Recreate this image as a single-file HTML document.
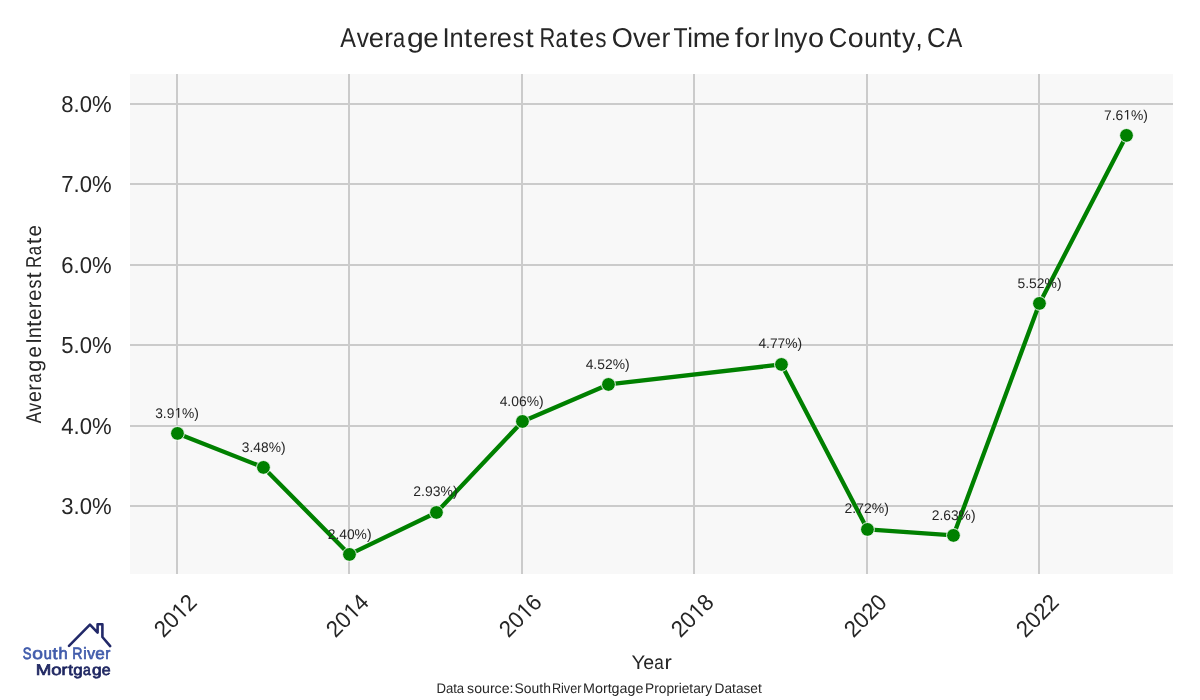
<!DOCTYPE html>
<html><head><meta charset="utf-8"><title>Average Interest Rates Over Time for Inyo County, CA</title>
<style>
html,body{margin:0;padding:0;background:#fff;}
body{width:1200px;height:700px;overflow:hidden;font-family:"Liberation Sans",sans-serif;}
svg{display:block;will-change:transform;}
text{font-family:"Liberation Sans",sans-serif;fill:#262626;text-rendering:geometricPrecision;}
.g{stroke:#cbcbcb;stroke-width:2;}
.tick{font-size:23.1px;}
.ann{font-size:14px;}
</style></head><body>
<svg width="1200" height="700" viewBox="0 0 1200 700">
<rect x="0" y="0" width="1200" height="700" fill="#ffffff"/>
<rect x="130" y="74" width="1043" height="500" fill="#f8f8f8"/>
<line class="g" x1="177" y1="74" x2="177" y2="574"/>
<line class="g" x1="349" y1="74" x2="349" y2="574"/>
<line class="g" x1="522" y1="74" x2="522" y2="574"/>
<line class="g" x1="694" y1="74" x2="694" y2="574"/>
<line class="g" x1="867" y1="74" x2="867" y2="574"/>
<line class="g" x1="1039" y1="74" x2="1039" y2="574"/>
<line class="g" x1="130" y1="104" x2="1173" y2="104"/>
<line class="g" x1="130" y1="184" x2="1173" y2="184"/>
<line class="g" x1="130" y1="265" x2="1173" y2="265"/>
<line class="g" x1="130" y1="345" x2="1173" y2="345"/>
<line class="g" x1="130" y1="426" x2="1173" y2="426"/>
<line class="g" x1="130" y1="506" x2="1173" y2="506"/>
<text class="tick" x="111.7" y="111.90" text-anchor="end" textLength="50.4" lengthAdjust="spacingAndGlyphs">8.0%</text>
<text class="tick" x="111.7" y="191.90" text-anchor="end" textLength="50.4" lengthAdjust="spacingAndGlyphs">7.0%</text>
<text class="tick" x="111.7" y="272.90" text-anchor="end" textLength="50.4" lengthAdjust="spacingAndGlyphs">6.0%</text>
<text class="tick" x="111.7" y="352.90" text-anchor="end" textLength="50.4" lengthAdjust="spacingAndGlyphs">5.0%</text>
<text class="tick" x="111.7" y="433.90" text-anchor="end" textLength="50.4" lengthAdjust="spacingAndGlyphs">4.0%</text>
<text class="tick" x="111.7" y="513.90" text-anchor="end" textLength="50.4" lengthAdjust="spacingAndGlyphs">3.0%</text>
<g transform="translate(175.00,615.2) rotate(-45)">
<text x="-24.60" y="8.30" font-size="23.1" textLength="24.60" lengthAdjust="spacingAndGlyphs">20</text>
<path d="M550 0V1237L232 1010V1180L565 1409H731V0Z" fill="#262626" transform="translate(0.00,8.30) scale(0.010799,-0.011279)"/>
<text x="12.30" y="8.30" font-size="23.1" textLength="12.30" lengthAdjust="spacingAndGlyphs">2</text>
</g>
<g transform="translate(347.00,615.2) rotate(-45)">
<text x="-24.60" y="8.30" font-size="23.1" textLength="24.60" lengthAdjust="spacingAndGlyphs">20</text>
<path d="M550 0V1237L232 1010V1180L565 1409H731V0Z" fill="#262626" transform="translate(0.00,8.30) scale(0.010799,-0.011279)"/>
<text x="12.30" y="8.30" font-size="23.1" textLength="12.30" lengthAdjust="spacingAndGlyphs">4</text>
</g>
<g transform="translate(520.00,615.2) rotate(-45)">
<text x="-24.60" y="8.30" font-size="23.1" textLength="24.60" lengthAdjust="spacingAndGlyphs">20</text>
<path d="M550 0V1237L232 1010V1180L565 1409H731V0Z" fill="#262626" transform="translate(0.00,8.30) scale(0.010799,-0.011279)"/>
<text x="12.30" y="8.30" font-size="23.1" textLength="12.30" lengthAdjust="spacingAndGlyphs">6</text>
</g>
<g transform="translate(692.00,615.2) rotate(-45)">
<text x="-24.60" y="8.30" font-size="23.1" textLength="24.60" lengthAdjust="spacingAndGlyphs">20</text>
<path d="M550 0V1237L232 1010V1180L565 1409H731V0Z" fill="#262626" transform="translate(0.00,8.30) scale(0.010799,-0.011279)"/>
<text x="12.30" y="8.30" font-size="23.1" textLength="12.30" lengthAdjust="spacingAndGlyphs">8</text>
</g>
<g transform="translate(865.00,615.2) rotate(-45)">
<text x="-24.60" y="8.30" font-size="23.1" textLength="49.20" lengthAdjust="spacingAndGlyphs">2020</text>
</g>
<g transform="translate(1037.00,615.2) rotate(-45)">
<text x="-24.60" y="8.30" font-size="23.1" textLength="49.20" lengthAdjust="spacingAndGlyphs">2022</text>
</g>
<polyline points="177.46,433.42 263.46,467.42 349.46,554.42 436.46,512.45 522.46,421.45 608.46,384.45 781.46,364.45 867.46,529.42 953.46,535.42 1039.46,303.42 1126.50,135.42" fill="none" stroke="#008000" stroke-width="4.3" stroke-linejoin="round" stroke-linecap="round"/>
<circle cx="177.46" cy="433.42" r="6.9" fill="#008000" stroke="#ffffff" stroke-width="0.9"/>
<circle cx="263.46" cy="467.42" r="6.9" fill="#008000" stroke="#ffffff" stroke-width="0.9"/>
<circle cx="349.46" cy="554.42" r="6.9" fill="#008000" stroke="#ffffff" stroke-width="0.9"/>
<circle cx="436.46" cy="512.45" r="6.9" fill="#008000" stroke="#ffffff" stroke-width="0.9"/>
<circle cx="522.46" cy="421.45" r="6.9" fill="#008000" stroke="#ffffff" stroke-width="0.9"/>
<circle cx="608.46" cy="384.45" r="6.9" fill="#008000" stroke="#ffffff" stroke-width="0.9"/>
<circle cx="781.46" cy="364.45" r="6.9" fill="#008000" stroke="#ffffff" stroke-width="0.9"/>
<circle cx="867.46" cy="529.42" r="6.9" fill="#008000" stroke="#ffffff" stroke-width="0.9"/>
<circle cx="953.46" cy="535.42" r="6.9" fill="#008000" stroke="#ffffff" stroke-width="0.9"/>
<circle cx="1039.46" cy="303.42" r="6.9" fill="#008000" stroke="#ffffff" stroke-width="0.9"/>
<circle cx="1126.50" cy="135.42" r="6.9" fill="#008000" stroke="#ffffff" stroke-width="0.9"/>
<text x="155.17" y="417.70" font-size="14" textLength="19.16" lengthAdjust="spacingAndGlyphs">3.9</text>
<path d="M550 0V1237L232 1010V1180L565 1409H731V0Z" fill="#262626" transform="translate(174.34,417.70) scale(0.006731,-0.006836)"/>
<text x="182.01" y="417.70" font-size="14" textLength="16.85" lengthAdjust="spacingAndGlyphs">%)</text>
<text x="241.87" y="451.70" font-size="14" textLength="43.68" lengthAdjust="spacingAndGlyphs">3.48%)</text>
<text x="327.70" y="538.70" font-size="14" textLength="43.85" lengthAdjust="spacingAndGlyphs">2.40%)</text>
<text x="413.30" y="495.60" font-size="14" textLength="44.27" lengthAdjust="spacingAndGlyphs">2.93%)</text>
<text x="499.68" y="405.60" font-size="14" textLength="43.88" lengthAdjust="spacingAndGlyphs">4.06%)</text>
<text x="585.68" y="368.70" font-size="14" textLength="43.88" lengthAdjust="spacingAndGlyphs">4.52%)</text>
<text x="758.38" y="347.70" font-size="14" textLength="43.77" lengthAdjust="spacingAndGlyphs">4.77%)</text>
<text x="844.60" y="512.90" font-size="14" textLength="44.27" lengthAdjust="spacingAndGlyphs">2.72%)</text>
<text x="931.70" y="519.60" font-size="14" textLength="43.85" lengthAdjust="spacingAndGlyphs">2.63%)</text>
<text x="1017.44" y="287.60" font-size="14" textLength="44.12" lengthAdjust="spacingAndGlyphs">5.52%)</text>
<text x="1103.99" y="119.60" font-size="14" textLength="19.29" lengthAdjust="spacingAndGlyphs">7.6</text>
<path d="M550 0V1237L232 1010V1180L565 1409H731V0Z" fill="#262626" transform="translate(1123.28,119.60) scale(0.006776,-0.006836)"/>
<text x="1131.00" y="119.60" font-size="14" textLength="16.96" lengthAdjust="spacingAndGlyphs">%)</text>
<text x="340.15" y="46.75" font-size="27.2" textLength="15.69" lengthAdjust="spacingAndGlyphs">A</text>
<text x="356.72" y="46.75" font-size="27.2" textLength="12.17" lengthAdjust="spacingAndGlyphs">v</text>
<text x="368.84" y="46.75" font-size="27.2" textLength="15.17" lengthAdjust="spacingAndGlyphs">e</text>
<text x="384.27" y="46.75" font-size="27.2" textLength="8.66" lengthAdjust="spacingAndGlyphs">r</text>
<text x="393.07" y="46.75" font-size="27.2" textLength="12.13" lengthAdjust="spacingAndGlyphs">a</text>
<text x="406.93" y="46.75" font-size="27.2" textLength="16.82" lengthAdjust="spacingAndGlyphs">g</text>
<text x="423.32" y="46.75" font-size="27.2" textLength="15.41" lengthAdjust="spacingAndGlyphs">e</text>
<text x="442.51" y="46.75" font-size="27.2" textLength="7.18" lengthAdjust="spacingAndGlyphs">I</text>
<text x="449.51" y="46.75" font-size="27.2" textLength="14.14" lengthAdjust="spacingAndGlyphs">n</text>
<text x="464.06" y="46.75" font-size="27.2" textLength="8.16" lengthAdjust="spacingAndGlyphs">t</text>
<text x="473.37" y="46.75" font-size="27.2" textLength="14.82" lengthAdjust="spacingAndGlyphs">e</text>
<text x="488.91" y="46.75" font-size="27.2" textLength="7.99" lengthAdjust="spacingAndGlyphs">r</text>
<text x="496.84" y="46.75" font-size="27.2" textLength="15.17" lengthAdjust="spacingAndGlyphs">e</text>
<text x="512.86" y="46.75" font-size="27.2" textLength="11.47" lengthAdjust="spacingAndGlyphs">s</text>
<text x="525.56" y="46.75" font-size="27.2" textLength="8.16" lengthAdjust="spacingAndGlyphs">t</text>
<text x="539.40" y="46.75" font-size="27.2" textLength="15.81" lengthAdjust="spacingAndGlyphs">R</text>
<text x="555.57" y="46.75" font-size="27.2" textLength="12.23" lengthAdjust="spacingAndGlyphs">a</text>
<text x="569.55" y="46.75" font-size="27.2" textLength="8.46" lengthAdjust="spacingAndGlyphs">t</text>
<text x="579.35" y="46.75" font-size="27.2" textLength="15.05" lengthAdjust="spacingAndGlyphs">e</text>
<text x="595.37" y="46.75" font-size="27.2" textLength="11.24" lengthAdjust="spacingAndGlyphs">s</text>
<text x="611.72" y="46.75" font-size="27.2" textLength="21.08" lengthAdjust="spacingAndGlyphs">O</text>
<text x="632.91" y="46.75" font-size="27.2" textLength="13.18" lengthAdjust="spacingAndGlyphs">v</text>
<text x="646.37" y="46.75" font-size="27.2" textLength="14.82" lengthAdjust="spacingAndGlyphs">e</text>
<text x="661.45" y="46.75" font-size="27.2" textLength="8.79" lengthAdjust="spacingAndGlyphs">r</text>
<text x="673.48" y="46.75" font-size="27.2" textLength="14.04" lengthAdjust="spacingAndGlyphs">T</text>
<text x="687.14" y="46.75" font-size="27.2" textLength="5.74" lengthAdjust="spacingAndGlyphs">i</text>
<text x="692.67" y="46.75" font-size="27.2" textLength="22.94" lengthAdjust="spacingAndGlyphs">m</text>
<text x="715.04" y="46.75" font-size="27.2" textLength="15.17" lengthAdjust="spacingAndGlyphs">e</text>
<text x="734.78" y="46.75" font-size="27.2" textLength="8.46" lengthAdjust="spacingAndGlyphs">f</text>
<text x="744.30" y="46.75" font-size="27.2" textLength="15.90" lengthAdjust="spacingAndGlyphs">o</text>
<text x="760.77" y="46.75" font-size="27.2" textLength="8.66" lengthAdjust="spacingAndGlyphs">r</text>
<text x="773.06" y="46.75" font-size="27.2" textLength="7.18" lengthAdjust="spacingAndGlyphs">I</text>
<text x="780.31" y="46.75" font-size="27.2" textLength="14.14" lengthAdjust="spacingAndGlyphs">n</text>
<text x="793.93" y="46.75" font-size="27.2" textLength="13.32" lengthAdjust="spacingAndGlyphs">y</text>
<text x="807.99" y="46.75" font-size="27.2" textLength="16.02" lengthAdjust="spacingAndGlyphs">o</text>
<text x="828.70" y="46.75" font-size="27.2" textLength="18.47" lengthAdjust="spacingAndGlyphs">C</text>
<text x="847.80" y="46.75" font-size="27.2" textLength="15.90" lengthAdjust="spacingAndGlyphs">o</text>
<text x="864.21" y="46.75" font-size="27.2" textLength="13.62" lengthAdjust="spacingAndGlyphs">u</text>
<text x="878.51" y="46.75" font-size="27.2" textLength="14.14" lengthAdjust="spacingAndGlyphs">n</text>
<text x="892.55" y="46.75" font-size="27.2" textLength="8.46" lengthAdjust="spacingAndGlyphs">t</text>
<text x="901.93" y="46.75" font-size="27.2" textLength="13.32" lengthAdjust="spacingAndGlyphs">y</text>
<text x="915.41" y="46.75" font-size="27.2" textLength="7.18" lengthAdjust="spacingAndGlyphs">,</text>
<text x="926.89" y="46.75" font-size="27.2" textLength="18.59" lengthAdjust="spacingAndGlyphs">C</text>
<text x="946.45" y="46.75" font-size="27.2" textLength="15.79" lengthAdjust="spacingAndGlyphs">A</text>
<g transform="translate(40.8,0) rotate(-90)">
<text x="-423.34" y="0" font-size="21.5" textLength="11.19" lengthAdjust="spacingAndGlyphs">A</text>
<text x="-411.56" y="0" font-size="21.5" textLength="8.62" lengthAdjust="spacingAndGlyphs">v</text>
<text x="-402.03" y="0" font-size="21.5" textLength="10.90" lengthAdjust="spacingAndGlyphs">e</text>
<text x="-390.83" y="0" font-size="21.5" textLength="6.66" lengthAdjust="spacingAndGlyphs">r</text>
<text x="-382.82" y="0" font-size="21.5" textLength="9.33" lengthAdjust="spacingAndGlyphs">a</text>
<text x="-371.93" y="0" font-size="21.5" textLength="12.37" lengthAdjust="spacingAndGlyphs">g</text>
<text x="-357.69" y="0" font-size="21.5" textLength="11.62" lengthAdjust="spacingAndGlyphs">e</text>
<text x="-343.64" y="0" font-size="21.5" textLength="5.67" lengthAdjust="spacingAndGlyphs">I</text>
<text x="-338.33" y="0" font-size="21.5" textLength="11.13" lengthAdjust="spacingAndGlyphs">n</text>
<text x="-327.14" y="0" font-size="21.5" textLength="6.31" lengthAdjust="spacingAndGlyphs">t</text>
<text x="-319.86" y="0" font-size="21.5" textLength="11.26" lengthAdjust="spacingAndGlyphs">e</text>
<text x="-308.33" y="0" font-size="21.5" textLength="6.66" lengthAdjust="spacingAndGlyphs">r</text>
<text x="-300.86" y="0" font-size="21.5" textLength="11.26" lengthAdjust="spacingAndGlyphs">e</text>
<text x="-288.50" y="0" font-size="21.5" textLength="8.94" lengthAdjust="spacingAndGlyphs">s</text>
<text x="-278.54" y="0" font-size="21.5" textLength="6.20" lengthAdjust="spacingAndGlyphs">t</text>
<text x="-267.88" y="0" font-size="21.5" textLength="12.16" lengthAdjust="spacingAndGlyphs">R</text>
<text x="-255.27" y="0" font-size="21.5" textLength="9.33" lengthAdjust="spacingAndGlyphs">a</text>
<text x="-244.16" y="0" font-size="21.5" textLength="6.53" lengthAdjust="spacingAndGlyphs">t</text>
<text x="-236.38" y="0" font-size="21.5" textLength="11.50" lengthAdjust="spacingAndGlyphs">e</text>
</g>
<text x="631.55" y="668.9" font-size="19.8" textLength="13.70" lengthAdjust="spacingAndGlyphs">Y</text>
<text x="643.37" y="668.9" font-size="19.8" textLength="10.90" lengthAdjust="spacingAndGlyphs">e</text>
<text x="654.27" y="668.9" font-size="19.8" textLength="9.53" lengthAdjust="spacingAndGlyphs">a</text>
<text x="664.64" y="668.9" font-size="19.8" textLength="7.33" lengthAdjust="spacingAndGlyphs">r</text>
<text x="436.42" y="692.6" font-size="14.0" textLength="27.78" lengthAdjust="spacingAndGlyphs">Data</text>
<text x="467.11" y="692.6" font-size="14.0" textLength="46.39" lengthAdjust="spacingAndGlyphs">source:</text>
<text x="514.57" y="692.6" font-size="14.0" textLength="36.33" lengthAdjust="spacingAndGlyphs">South</text>
<text x="551.96" y="692.6" font-size="14.0" textLength="29.44" lengthAdjust="spacingAndGlyphs">River</text>
<text x="583.03" y="692.6" font-size="14.0" textLength="60.41" lengthAdjust="spacingAndGlyphs">Mortgage</text>
<text x="645.07" y="692.6" font-size="14.0" textLength="67.15" lengthAdjust="spacingAndGlyphs">Proprietary</text>
<text x="714.58" y="692.6" font-size="14.0" textLength="47.22" lengthAdjust="spacingAndGlyphs">Dataset</text>
<g id="logo">
<polyline points="69,645.9 89.95,624.7 97.6,632.6 97.6,624.3 102.4,624.3 102.4,637 110.2,646.1" fill="none" stroke="#222969" stroke-width="2.6" stroke-linejoin="round" stroke-linecap="round"/>
<text x="22.83" y="658.65" font-size="16.4" textLength="8.75" lengthAdjust="spacingAndGlyphs" style="fill:#405bab;stroke:#405bab;stroke-width:0.7px">S</text>
<text x="32.39" y="658.65" font-size="16.4" textLength="10.72" lengthAdjust="spacingAndGlyphs" style="fill:#405bab;stroke:#405bab;stroke-width:0.7px">o</text>
<text x="43.85" y="658.65" font-size="16.4" textLength="8.12" lengthAdjust="spacingAndGlyphs" style="fill:#405bab;stroke:#405bab;stroke-width:0.7px">u</text>
<text x="52.53" y="658.65" font-size="16.4" textLength="5.00" lengthAdjust="spacingAndGlyphs" style="fill:#405bab;stroke:#405bab;stroke-width:0.7px">t</text>
<text x="58.55" y="658.65" font-size="16.4" textLength="9.23" lengthAdjust="spacingAndGlyphs" style="fill:#405bab;stroke:#405bab;stroke-width:0.7px">h</text>
<text x="72.14" y="658.65" font-size="16.4" textLength="10.22" lengthAdjust="spacingAndGlyphs" style="fill:#405bab;stroke:#405bab;stroke-width:0.7px">R</text>
<text x="83.32" y="658.65" font-size="16.4" textLength="3.46" lengthAdjust="spacingAndGlyphs" style="fill:#405bab;stroke:#405bab;stroke-width:0.7px">i</text>
<text x="87.35" y="658.65" font-size="16.4" textLength="7.81" lengthAdjust="spacingAndGlyphs" style="fill:#405bab;stroke:#405bab;stroke-width:0.7px">v</text>
<text x="95.28" y="658.65" font-size="16.4" textLength="9.48" lengthAdjust="spacingAndGlyphs" style="fill:#405bab;stroke:#405bab;stroke-width:0.7px">e</text>
<text x="105.29" y="658.65" font-size="16.4" textLength="5.06" lengthAdjust="spacingAndGlyphs" style="fill:#405bab;stroke:#405bab;stroke-width:0.7px">r</text>
<text x="35.67" y="674.7" font-size="15.4" textLength="15.57" lengthAdjust="spacingAndGlyphs" style="fill:#1f2762;stroke:#1f2762;stroke-width:0.7px">M</text>
<text x="51.22" y="674.7" font-size="15.4" textLength="10.37" lengthAdjust="spacingAndGlyphs" style="fill:#1f2762;stroke:#1f2762;stroke-width:0.7px">o</text>
<text x="61.40" y="674.7" font-size="15.4" textLength="5.99" lengthAdjust="spacingAndGlyphs" style="fill:#1f2762;stroke:#1f2762;stroke-width:0.7px">r</text>
<text x="68.15" y="674.7" font-size="15.4" textLength="4.68" lengthAdjust="spacingAndGlyphs" style="fill:#1f2762;stroke:#1f2762;stroke-width:0.7px">t</text>
<text x="73.39" y="674.7" font-size="15.4" textLength="9.40" lengthAdjust="spacingAndGlyphs" style="fill:#1f2762;stroke:#1f2762;stroke-width:0.7px">g</text>
<text x="83.00" y="674.7" font-size="15.4" textLength="7.80" lengthAdjust="spacingAndGlyphs" style="fill:#1f2762;stroke:#1f2762;stroke-width:0.7px">a</text>
<text x="92.07" y="674.7" font-size="15.4" textLength="9.65" lengthAdjust="spacingAndGlyphs" style="fill:#1f2762;stroke:#1f2762;stroke-width:0.7px">g</text>
<text x="101.82" y="674.7" font-size="15.4" textLength="8.89" lengthAdjust="spacingAndGlyphs" style="fill:#1f2762;stroke:#1f2762;stroke-width:0.7px">e</text>
</g>
</svg>
</body></html>
